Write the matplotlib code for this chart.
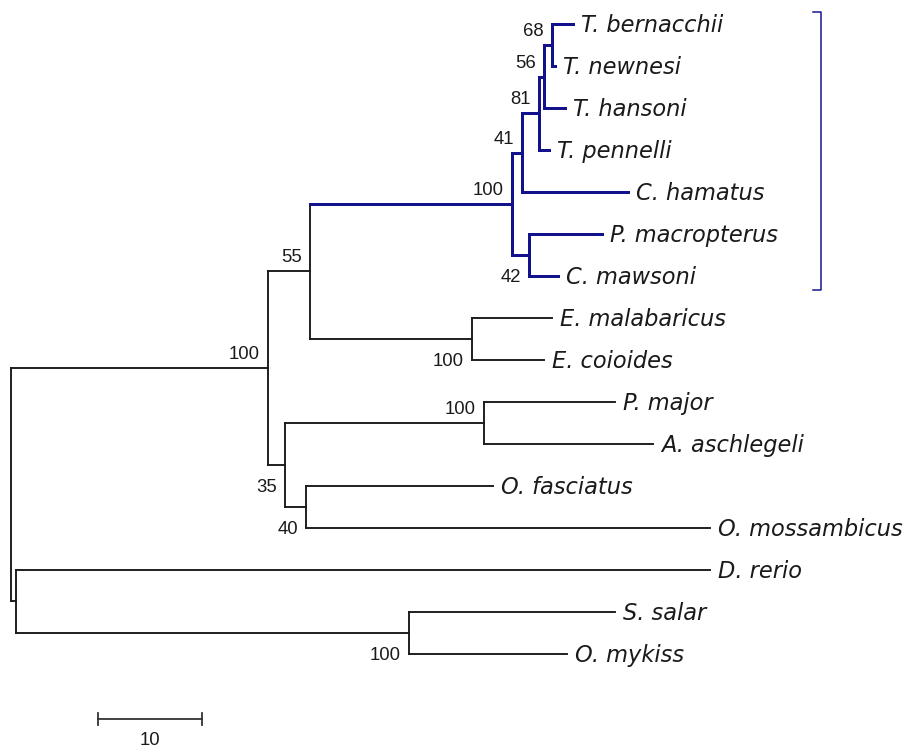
import matplotlib
matplotlib.use("Agg")
import matplotlib.pyplot as plt

# ---------------- data ----------------
node_names = ['root', 'ingroup', 'n55', 'antarctic', 'n41', 'n81', 'n56', 'n68',
              'n42', 'epi', 'n35', 'sparid', 'n40', 'outgroup', 'salmonid']
node_parent = [None, 'root', 'ingroup', 'n55', 'antarctic', 'n41', 'n81', 'n56',
               'antarctic', 'n55', 'ingroup', 'n35', 'n35', 'root', 'outgroup']
node_length = [0.0, 24.71, 4.04, 19.42, 0.96, 1.64, 0.48, 0.77,
               1.64, 15.58, 1.64, 19.13, 2.02, 0.48, 37.79]
node_support = [None, 100, 55, 100, 41, 81, 56, 68,
                42, 100, 35, 100, 40, None, 100]

taxa = ['T. bernacchii', 'T. newnesi', 'T. hansoni', 'T. pennelli', 'C. hamatus',
        'P. macropterus', 'C. mawsoni', 'E. malabaricus', 'E. coioides',
        'P. major', 'A. aschlegeli', 'O. fasciatus', 'O. mossambicus',
        'D. rerio', 'S. salar', 'O. mykiss']
taxon_parent = ['n68', 'n68', 'n56', 'n81', 'n41', 'n42', 'n42', 'epi', 'epi',
                'sparid', 'sparid', 'n40', 'n40', 'outgroup', 'salmonid', 'salmonid']
taxon_length = [2.02, 0.29, 2.02, 0.96, 10.20, 7.02, 2.79, 7.69, 6.92,
                12.60, 16.25, 17.98, 38.84, 66.73, 19.81, 15.19]

highlight_clade = 'antarctic'
scale_length = 10

# ---------------- tree layout ----------------
parent = dict(zip(node_names, node_parent))
parent.update(dict(zip(taxa, taxon_parent)))
length = dict(zip(node_names, node_length))
length.update(dict(zip(taxa, taxon_length)))
support = dict(zip(node_names, node_support))

children = {n: [] for n in node_names}
for name in node_names[1:] + taxa:
    children[parent[name]].append(name)
order = {t: i for i, t in enumerate(taxa)}


def first_tip(n):
    if n in order:
        return order[n]
    return min(first_tip(c) for c in children[n])


for n in children:
    children[n].sort(key=first_tip)

xpos, ypos = {}, {}


def place(n, x):
    xpos[n] = x
    if n in order:
        ypos[n] = order[n]
        return
    for c in children[n]:
        place(c, x + length[c])
    ypos[n] = (ypos[children[n][0]] + ypos[children[n][-1]]) / 2


place('root', 0.0)


def in_clade(n, clade):
    while n is not None:
        if n == clade:
            return True
        n = parent.get(n)
    return False


# ---------------- drawing ----------------
W, H, DPI = 919, 749, 72
fig = plt.figure(figsize=(W / DPI, H / DPI), dpi=DPI)
ax = fig.add_axes([0, 0, 1, 1])
ax.set_axis_off()
px_per_unit = 10.4
row_px = 42.0
ax.set_xlim(-11 / px_per_unit, (W - 11) / px_per_unit)
ax.set_ylim((H - 24) / row_px, -24 / row_px)

black = '#1a1a1a'
blue = '#12128c'
lw_black = 1.9
lw_blue = 3.0
text_color = '#1a1a1a'

for n in node_names[1:] + taxa:
    p = parent[n]
    hl = in_clade(n, highlight_clade)
    ax.plot([xpos[p], xpos[n]], [ypos[n], ypos[n]],
            color=blue if hl else black, lw=lw_blue if hl else lw_black,
            solid_capstyle='projecting', zorder=3 if hl else 2)

for n in node_names:
    ch = children[n]
    hl = in_clade(n, highlight_clade)
    ax.plot([xpos[n], xpos[n]], [ypos[ch[0]], ypos[ch[-1]]],
            color=blue if hl else black, lw=lw_blue if hl else lw_black,
            solid_capstyle='projecting', zorder=3 if hl else 2)

# taxon labels
for t in taxa:
    ax.annotate(t, (xpos[t], ypos[t]), xytext=(8, -8), textcoords='offset points',
                ha='left', va='baseline', fontsize=22.5, fontstyle='italic',
                family='DejaVu Sans', color=text_color)

# bootstrap labels
for n in node_names:
    s = support[n]
    if s is None:
        continue
    p = parent[n]
    upper = children[p][0] == n
    dy = 9 if upper else -27
    ax.annotate(str(s), (xpos[n], ypos[n]), xytext=(-8, dy), textcoords='offset points',
                ha='right', va='baseline', fontsize=18.5,
                family='Liberation Sans', color=text_color)

# clade bracket
clade_tips = [t for t in taxa if in_clade(t, highlight_clade)]
y0 = ypos[clade_tips[0]] - 0.29
y1 = ypos[clade_tips[-1]] + 0.33
bx = (821 - 11) / px_per_unit
tick = 8 / px_per_unit
ax.plot([bx - tick, bx, bx, bx - tick], [y0, y0, y1, y1], color=blue, lw=1.5)

# scale bar
sx0 = (98 - 11) / px_per_unit
sy = (719 - 24) / row_px
ax.plot([sx0, sx0 + scale_length], [sy, sy], color='#333333', lw=1.8)
for sx in (sx0, sx0 + scale_length):
    ax.plot([sx, sx], [sy - 0.15, sy + 0.15], color='#333333', lw=1.8)
ax.annotate(str(scale_length), (sx0 + scale_length / 2, sy), xytext=(0, -26),
            textcoords='offset points', ha='center', va='baseline', fontsize=18.5,
            family='Liberation Sans', color=text_color)

fig.savefig('out.png', dpi=DPI, facecolor='white')
